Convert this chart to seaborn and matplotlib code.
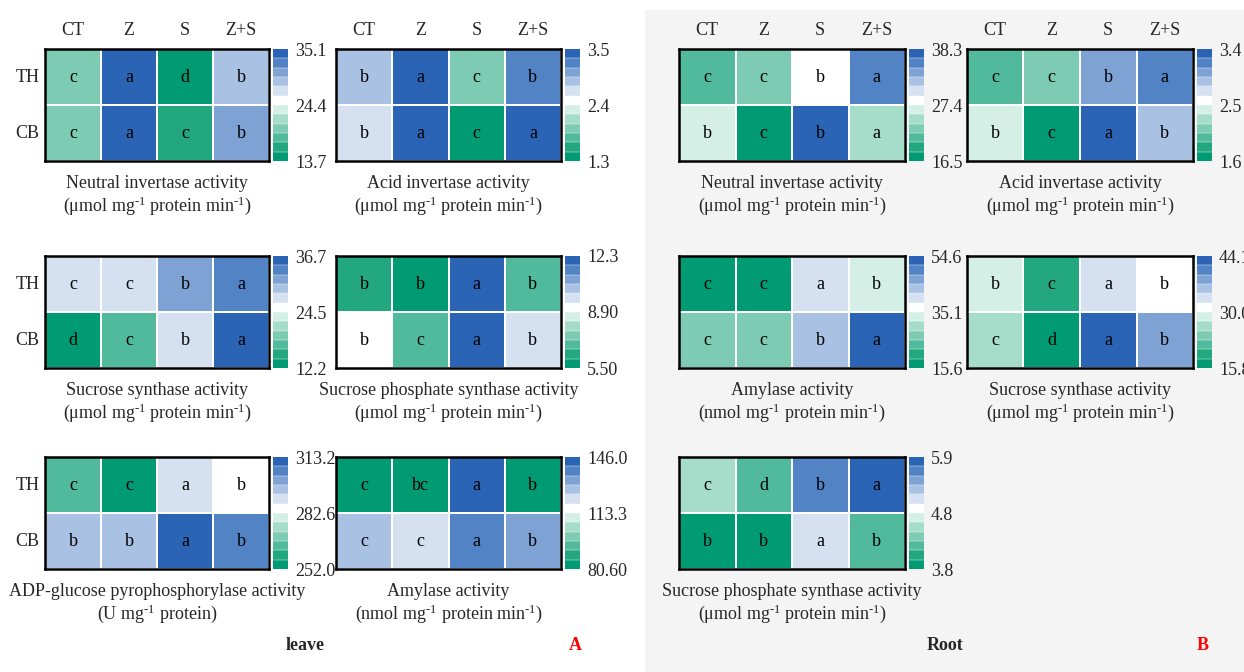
import numpy as np
import pandas as pd
import matplotlib
matplotlib.use("Agg")
import matplotlib.pyplot as plt
import seaborn as sns
from matplotlib.colors import ListedColormap
from matplotlib.patches import Rectangle

# ---------------- data ----------------
treatments = ["CT", "Z", "S", "Z+S"]
row_names = ["TH", "CB"]

# Leaf (panel A)
leaf_ni = [[19.9, 34.2, 14.6, 28.9], [19.9, 34.2, 16.4, 30.6]]
leaf_ni_sig = [["c", "a", "d", "b"], ["c", "a", "c", "b"]]
leaf_ni_ticks = ["13.7", "24.4", "35.1"]

leaf_ai = [[2.86, 3.41, 1.94, 3.22], [2.68, 3.41, 1.39, 3.41]]
leaf_ai_sig = [["b", "a", "c", "b"], ["b", "a", "c", "a"]]
leaf_ai_ticks = ["1.3", "2.4", "3.5"]

leaf_ss = [[27.5, 27.5, 31.6, 33.6], [13.2, 17.3, 27.5, 35.7]]
leaf_ss_sig = [["c", "c", "b", "a"], ["d", "c", "b", "a"]]
leaf_ss_ticks = ["12.2", "24.5", "36.7"]

leaf_sps = [[6.35, 5.78, 12.0, 6.92], [9.18, 6.92, 12.0, 9.75]]
leaf_sps_sig = [["b", "b", "a", "b"], ["b", "c", "a", "b"]]
leaf_sps_ticks = ["5.50", "8.90", "12.3"]

leaf_adp = [[264.8, 254.6, 290.3, 285.2], [295.4, 295.4, 310.7, 305.6]]
leaf_adp_sig = [["c", "c", "a", "b"], ["b", "b", "a", "b"]]
leaf_adp_ticks = ["252.0", "282.6", "313.2"]

leaf_amy = [[83.3, 83.3, 143.3, 83.3], [126.9, 121.5, 137.8, 132.4]]
leaf_amy_sig = [["c", "bc", "a", "b"], ["c", "c", "a", "b"]]
leaf_amy_ticks = ["80.60", "113.3", "146.0"]

# Root (panel B)
root_ni = [[21.0, 22.9, 28.3, 35.6], [26.5, 17.4, 37.4, 24.7]]
root_ni_sig = [["c", "c", "b", "a"], ["b", "c", "b", "a"]]
root_ni_ticks = ["16.5", "27.4", "38.3"]

root_ai = [[1.98, 2.13, 3.03, 3.18], [2.43, 1.68, 3.33, 2.88]]
root_ai_sig = [["c", "c", "b", "a"], ["b", "c", "a", "b"]]
root_ai_ticks = ["1.6", "2.5", "3.4"]

root_amy = [[17.2, 17.2, 40.0, 33.5], [27.0, 27.0, 43.2, 53.0]]
root_amy_sig = [["c", "c", "a", "b"], ["c", "c", "b", "a"]]
root_amy_ticks = ["15.6", "35.1", "54.6"]

root_ss = [[28.8, 19.3, 33.5, 31.1], [26.4, 17.0, 42.9, 38.2]]
root_ss_sig = [["b", "c", "a", "b"], ["c", "d", "a", "b"]]
root_ss_ticks = ["15.8", "30.0", "44.1"]

root_sps = [[4.59, 4.24, 5.64, 5.81], [3.89, 3.89, 5.11, 4.24]]
root_sps_sig = [["c", "d", "b", "a"], ["b", "b", "a", "b"]]
root_sps_ticks = ["3.8", "4.8", "5.9"]

titles = {
    "ni": "Neutral invertase activity",
    "ai": "Acid invertase activity",
    "ss": "Sucrose synthase activity",
    "sps": "Sucrose phosphate synthase activity",
    "adp": "ADP-glucose pyrophosphorylase activity",
    "amy": "Amylase activity",
}
unit_umol = r"(μmol mg$^{\text{-1}}$ protein min$^{\text{-1}}$)"
unit_nmol = r"(nmol mg$^{\text{-1}}$ protein min$^{\text{-1}}$)"
unit_u = r"(U mg$^{\text{-1}}$ protein)"

# ---------------- style ----------------
sns.set_style("white")
plt.rcParams["font.family"] = ["Liberation Serif", "DejaVu Serif"]
plt.rcParams["mathtext.fontset"] = "custom"
plt.rcParams["mathtext.rm"] = "Liberation Serif"
plt.rcParams["mathtext.it"] = "Liberation Serif:italic"
plt.rcParams["mathtext.default"] = "regular"

colors = ["#009B72", "#22A77F", "#52BA9C", "#7DCBB2", "#A6DCCA", "#D4EFE6",
          "#FFFFFF",
          "#D5E1F1", "#A9C1E2", "#7EA2D4", "#5283C5", "#2C64B5"]
cmap = ListedColormap(colors)

W, H = 1244, 672
fig = plt.figure(figsize=(W / 100, H / 100), dpi=100)
fig.patch.set_facecolor("white")
fig.patches.append(Rectangle((645 / W, 0), 1 - 645 / W, (H - 10) / H,
                             transform=fig.transFigure, facecolor="#F4F4F5",
                             edgecolor="none", zorder=-10))

cols_x = [(45, 269), (336, 561), (679, 905), (967, 1193)]
rows_y = [(49, 161), (256, 368), (457, 569)]

panels = [
    (0, 0, leaf_ni, leaf_ni_sig, leaf_ni_ticks, titles["ni"], unit_umol),
    (0, 1, leaf_ai, leaf_ai_sig, leaf_ai_ticks, titles["ai"], unit_umol),
    (1, 0, leaf_ss, leaf_ss_sig, leaf_ss_ticks, titles["ss"], unit_umol),
    (1, 1, leaf_sps, leaf_sps_sig, leaf_sps_ticks, titles["sps"], unit_umol),
    (2, 0, leaf_adp, leaf_adp_sig, leaf_adp_ticks, titles["adp"], unit_u),
    (2, 1, leaf_amy, leaf_amy_sig, leaf_amy_ticks, titles["amy"], unit_nmol),
    (0, 2, root_ni, root_ni_sig, root_ni_ticks, titles["ni"], unit_umol),
    (0, 3, root_ai, root_ai_sig, root_ai_ticks, titles["ai"], unit_umol),
    (1, 2, root_amy, root_amy_sig, root_amy_ticks, titles["amy"], unit_nmol),
    (1, 3, root_ss, root_ss_sig, root_ss_ticks, titles["ss"], unit_umol),
    (2, 2, root_sps, root_sps_sig, root_sps_ticks, titles["sps"], unit_umol),
]

FS = 13
for r, c, vals, sig, ticks, title, unit in panels:
    x0, x1 = cols_x[c]
    y0, y1 = rows_y[r]
    ax = fig.add_axes([x0 / W, 1 - y1 / H, (x1 - x0) / W, (y1 - y0) / H])
    cax = fig.add_axes([(x1 + 4) / W, 1 - y1 / H, 15 / W, (y1 - y0) / H])
    tick_vals = [float(t) for t in ticks]
    vmin, vmax = tick_vals[0], tick_vals[2]
    df = pd.DataFrame(vals, index=row_names, columns=treatments)
    sns.heatmap(df, ax=ax, cbar_ax=cax, cmap=cmap, vmin=vmin, vmax=vmax,
                annot=np.array(sig), fmt="",
                annot_kws={"color": "black", "fontsize": FS},
                linewidths=1.2, linecolor="white",
                xticklabels=(r == 0), yticklabels=(c == 0),
                cbar_kws={"ticks": [vmin, (vmin + vmax) / 2, vmax],
                          "drawedges": True})
    ax.set_xlabel("")
    ax.set_ylabel("")
    for s in ax.spines.values():
        s.set_visible(True)
        s.set_linewidth(1.8)
        s.set_color("black")
    if r == 0:
        ax.xaxis.tick_top()
        ax.set_xticklabels(treatments, fontsize=FS, rotation=0)
        ax.tick_params(axis="x", length=0, pad=7)
    if c == 0:
        ax.set_yticklabels(row_names, fontsize=FS, rotation=0)
        ax.tick_params(axis="y", length=0, pad=4)
    cb = ax.collections[0].colorbar
    cb.set_ticks([vmin, (vmin + vmax) / 2, vmax])
    cb.set_ticklabels(ticks)
    cb.outline.set_visible(False)
    cb.dividers.set_color("white")
    cb.dividers.set_linewidth(0.3)
    cax.tick_params(length=0, pad=5, labelsize=FS)
    ax.text(0.5, -0.2, title, transform=ax.transAxes, ha="center",
            va="center", fontsize=FS)
    ax.text(0.5, -0.40, unit, transform=ax.transAxes, ha="center",
            va="center", fontsize=FS)

fig.text(305 / W, 1 - 645 / H, "leave", ha="center", va="center",
         fontsize=FS, fontweight="bold")
fig.text(575 / W, 1 - 645 / H, "A", ha="center", va="center",
         fontsize=FS, fontweight="bold", color="red")
fig.text(945 / W, 1 - 645 / H, "Root", ha="center", va="center",
         fontsize=FS, fontweight="bold")
fig.text(1203 / W, 1 - 645 / H, "B", ha="center", va="center",
         fontsize=FS, fontweight="bold", color="red")

fig.savefig("out.png", dpi=100)
